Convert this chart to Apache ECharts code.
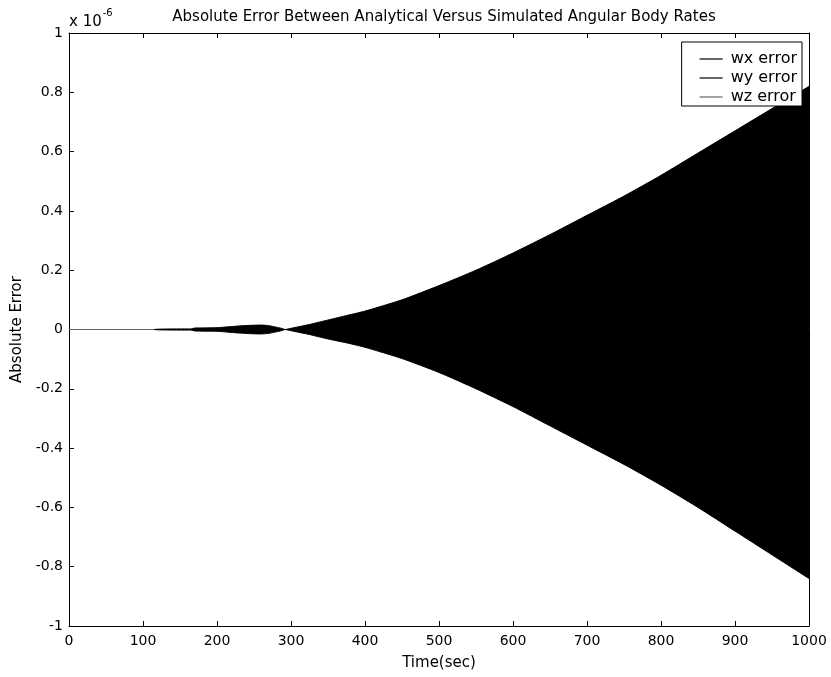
<!DOCTYPE html>
<html>
<head>
<meta charset="utf-8">
<script src="https://cdn.jsdelivr.net/npm/echarts@6/dist/echarts.min.js"></script>
<style>html,body{margin:0;padding:0;background:#fff}#c{width:831px;height:677px}</style>
</head>
<body>
<div id="c"></div>
<script>
// Time (sec)
var timeWx = [115,120,140,165,170,200,215,230,245,260,270,280,287,292,300,325,350,375,400,450,500,550,600,650,700,750,800,850,900,950,1000];
// Upper envelope of the dense oscillation (x 10^-6)
var wxError = [0,0.001,0.002,0.002,0.005,0.006,0.009,0.012,0.014,0.015,0.013,0.008,0.004,0,0.004,0.017,0.032,0.047,0.062,0.100,0.148,0.200,0.258,0.320,0.385,0.450,0.520,0.595,0.670,0.745,0.820];
// Lower envelope (x 10^-6)
var wyError = [0,-0.001,-0.002,-0.002,-0.005,-0.006,-0.009,-0.012,-0.014,-0.015,-0.013,-0.008,-0.004,0,-0.004,-0.017,-0.032,-0.045,-0.060,-0.098,-0.145,-0.200,-0.260,-0.325,-0.390,-0.455,-0.525,-0.600,-0.680,-0.760,-0.840];
// Early near-zero segment
var timeWz = [0,115];
var wzError = [0,0];

var xTicks = {min:0, max:1000, step:100};
var yTicks = {min:-1, max:1, step:0.2};

function pairs(t, v){ return t.map(function(x,i){ return [x, v[i]]; }); }

var FONT = 'DejaVu Sans';
var chart = echarts.init(document.getElementById('c'));
var axisLine = {show:true, onZero:false, lineStyle:{color:'#000', width:1}};
var tick = {show:true, inside:true, length:5, lineStyle:{color:'#000'}};
chart.setOption({
  animation:false,
  backgroundColor:'#fff',
  title:{text:'Absolute Error Between Analytical Versus Simulated Angular Body Rates', left:439, textAlign:'center', top:5,
    textStyle:{fontFamily:FONT, fontSize:15, fontWeight:'normal', color:'#000'}},
  grid:{left:69, right:22, top:33, bottom:51, show:false},
  legend:{
    orient:'vertical', right:29, top:42, z:20,
    backgroundColor:'#fff', borderColor:'#000', borderWidth:1,
    padding:[9,5,1,18], itemGap:3, itemWidth:23, itemHeight:1.2, icon:'rect',
    textStyle:{fontFamily:FONT, fontSize:16, color:'#000', padding:[0,0,0,3], lineHeight:14.5},
    data:['wx error','wy error','wz error']
  },
  xAxis:[{type:'value', min:xTicks.min, max:xTicks.max, interval:xTicks.step,
    name:'Time(sec)', nameLocation:'middle', nameGap:30,
    nameTextStyle:{fontFamily:FONT, fontSize:15, color:'#000'},
    axisLine:axisLine, axisTick:tick, splitLine:{show:false},
    axisLabel:{fontFamily:FONT, fontSize:14, color:'#000', margin:8,
      formatter:function(v){ return String(v); }}},
   {type:'value', position:'top', min:xTicks.min, max:xTicks.max, interval:xTicks.step,
    axisLine:axisLine, axisTick:tick, splitLine:{show:false}, axisLabel:{show:false}}],
  yAxis:[{type:'value', min:yTicks.min, max:yTicks.max, interval:yTicks.step,
    name:'Absolute Error', nameLocation:'middle', nameGap:28,
    nameTextStyle:{fontFamily:FONT, fontSize:15, color:'#000'},
    axisLine:axisLine, axisTick:tick, splitLine:{show:false},
    axisLabel:{fontFamily:FONT, fontSize:14, color:'#000', margin:6,
      formatter:function(v){ return String(Math.round(v*10)/10); }}},
   {type:'value', position:'right', min:yTicks.min, max:yTicks.max, interval:yTicks.step,
    axisLine:axisLine, axisTick:tick, splitLine:{show:false}, axisLabel:{show:false}}],
  graphic:[{type:'text', left:69, top:8, z:10,
    style:{rich:{b:{fontFamily:FONT, fontSize:15, fill:'#000', padding:[7,0,0,0]}, s:{fontFamily:FONT, fontSize:10, fill:'#000', verticalAlign:'top', padding:[0,0,10,1]}},
      text:'{b|x 10}{s|-6}'}}],
  series:[
    {name:'wx error', type:'line', data:pairs(timeWx, wxError), symbol:'none', showSymbol:false, smooth:0.2, color:'#000',
      lineStyle:{color:'#000', width:1}, areaStyle:{color:'#000', opacity:1, origin:-0.002}},
    {name:'wy error', type:'line', data:pairs(timeWx, wyError), symbol:'none', showSymbol:false, smooth:0.2, color:'#000',
      lineStyle:{color:'#000', width:1}, areaStyle:{color:'#000', opacity:1, origin:0.002}},
    {name:'wz error', type:'line', data:pairs(timeWz, wzError), symbol:'none', showSymbol:false, color:'#666',
      lineStyle:{color:'#666', width:1}}
  ]
});
</script>
</body>
</html>
